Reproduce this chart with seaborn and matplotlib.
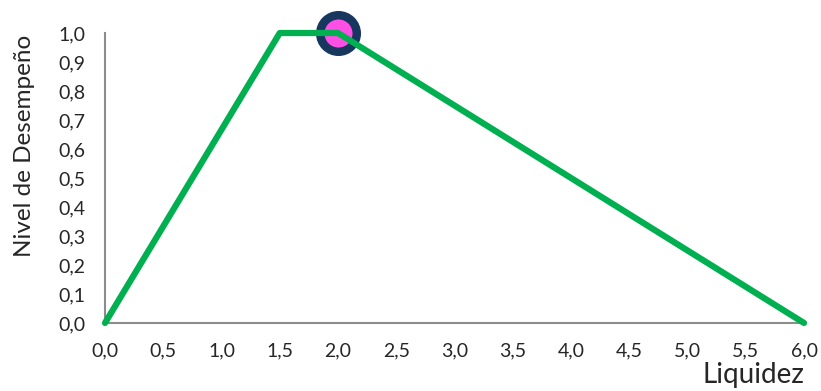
import matplotlib
matplotlib.use("Agg")
import matplotlib.pyplot as plt
import seaborn as sns
import pandas as pd
from matplotlib.ticker import FuncFormatter, MultipleLocator

# data
liquidez = [0.0, 1.5, 2.0, 6.0]
desempeno = [0.0, 1.0, 1.0, 0.0]
punto_x = [2.0]
punto_y = [1.0]

df = pd.DataFrame({"Liquidez": liquidez, "Nivel": desempeno})
pt = pd.DataFrame({"Liquidez": punto_x, "Nivel": punto_y})

sns.set_style("white")
plt.rcParams['font.family'] = ['Lato', 'DejaVu Sans']

fig = plt.figure(figsize=(8.21, 3.91), dpi=100)
ax = fig.add_axes([0.1279, 0.174, 0.8514, 0.7416])

# highlighted point sits under the line
sns.lineplot(data=pt, x="Liquidez", y="Nivel", marker="o", markersize=26.3,
             markerfacecolor="#FF4FE5", markeredgecolor="#17375E",
             markeredgewidth=6.1, linestyle="none", ax=ax, zorder=2)
sns.lineplot(data=df, x="Liquidez", y="Nivel", color="#00B050", linewidth=4.5,
             ax=ax, sort=False, zorder=3)

ax.set_xlim(0, 6)
ax.set_ylim(0, 1)
ax.xaxis.set_major_locator(MultipleLocator(0.5))
ax.yaxis.set_major_locator(MultipleLocator(0.1))
fmt = FuncFormatter(lambda v, p: f"{v:.1f}".replace(".", ","))
ax.xaxis.set_major_formatter(fmt)
ax.yaxis.set_major_formatter(fmt)
ax.tick_params(axis="both", length=0, labelsize=14)
ax.tick_params(axis="x", pad=14)
ax.tick_params(axis="y", pad=14)

for s in ["top", "right"]:
    ax.spines[s].set_visible(False)
for s in ["left", "bottom"]:
    ax.spines[s].set_color("#8C8C8C")
    ax.spines[s].set_linewidth(1.5)

for ln in ax.lines:
    ln.set_clip_on(False)

ax.set_xlabel("Liquidez", fontsize=20, loc="right", labelpad=2)
ax.set_ylabel("Nivel de Desempeño", fontsize=17.5)
ax.yaxis.set_label_coords(-0.100, 0.61)

fig.savefig("out.png", dpi=100)
